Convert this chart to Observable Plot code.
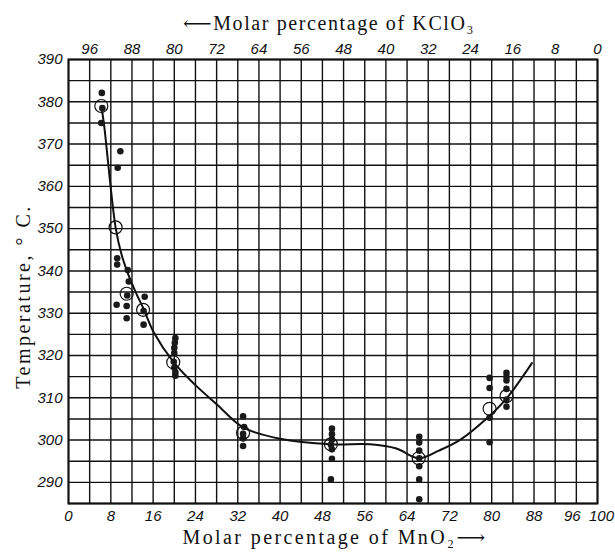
<!DOCTYPE html>
<html>
<head>
<meta charset="utf-8">
<script src="https://cdn.jsdelivr.net/npm/d3@7"></script>
<script src="https://cdn.jsdelivr.net/npm/@observablehq/plot@0.6"></script>
<style>
  html, body { margin: 0; padding: 0; background: #fff; }
</style>
</head>
<body>
<div id="chart"></div>
<script>
// ---- Data ----
const titleTop = "⟵Molar percentage of KClO₃";
const titleBottom = "Molar percentage of MnO₂⟶";
const titleY = "Temperature, ° C.";

// bottom axis: MnO2 %, top axis: KClO3 % (= 100 - MnO2)
const bottomTicks = [0, 8, 16, 24, 32, 40, 48, 56, 64, 72, 80, 88, 96, 100];
const topTicksKClO3 = [96, 88, 80, 72, 64, 56, 48, 40, 32, 24, 16, 8, 0];
const yTicks = [290, 300, 310, 320, 330, 340, 350, 360, 370, 380, 390];

// individual determinations (filled dots)
const filledX = [6.3, 6.4, 6.2,
  9.8, 9.3,
  9.2, 9.2, 11.2, 11.4, 11.1, 9.1, 11.0, 11.0, 14.4, 14.2, 14.2,
  20.2, 20.1, 20.0, 20.0, 19.9, 20.0, 20.2, 20.2,
  33.0, 33.2, 33.0, 33.0, 33.0,
  49.8, 49.8, 49.8, 49.6, 49.8, 49.8, 49.6,
  66.3, 66.3, 66.3, 66.3, 66.3, 66.3, 66.3,
  79.6, 79.6, 79.6, 79.6,
  82.8, 82.8, 82.8, 82.8, 82.8, 82.8];
const filledT = [382.1, 378.5, 375.0,
  368.3, 364.4,
  343.0, 341.5, 340.2, 337.5, 334.2, 332.0, 331.7, 328.8, 333.9, 330.5, 327.3,
  324.1, 323.0, 321.8, 320.6, 318.5, 317.1, 316.0, 315.2,
  305.6, 303.1, 301.5, 300.4, 298.6,
  302.7, 301.4, 300.1, 298.9, 297.8, 295.6, 290.7,
  300.8, 299.4, 297.5, 295.7, 293.8, 290.7, 286.0,
  314.7, 312.3, 305.3, 299.5,
  315.9, 315.0, 314.1, 312.1, 309.6, 307.9];

// mean values (open circles)
const meanX = [6.2, 8.9, 11.0, 14.1, 19.8, 33.0, 49.6, 66.2, 79.6, 82.8];
const meanT = [379.0, 350.3, 334.6, 330.8, 318.4, 301.7, 299.0, 295.7, 307.4, 310.4];

// smooth curve drawn through the means
const curveX = [6.2, 6.7, 8.9, 10.0, 11.2, 12.8, 14.2, 16.1, 19.9, 24, 28, 33, 40, 49.6, 57, 62, 66.2, 70, 74.1, 79.4, 82.9, 87.6];
const curveT = [379, 374.8, 350.3, 344, 339.5, 334.7, 331, 325.5, 318.4, 313, 308.5, 303, 300.3, 299, 299, 298, 295.7, 297.5, 300.1, 305.5, 310, 318.2];

// ---- Chart ----
const xGrid = d3.range(0, 101, 4);
const yGrid = d3.range(285, 391, 5);
const ink = "#111";
const serif = "'Liberation Serif', 'DejaVu Serif', serif";

const chart = Plot.plot({
  width: 615,
  height: 555,
  marginLeft: 68,
  marginRight: 18,
  marginTop: 59,
  marginBottom: 52,
  style: { background: "#fff", fontFamily: "'Liberation Sans', sans-serif", fontStyle: "italic", fontSize: "15px", color: ink },
  x: { domain: [0, 100] },
  y: { domain: [285, 390] },
  marks: [
    Plot.ruleX(xGrid, { stroke: ink, strokeWidth: 1.4 }),
    Plot.ruleY(yGrid, { stroke: ink, strokeWidth: 1.4 }),
    Plot.frame({ stroke: ink, strokeWidth: 2 }),
    Plot.axisX(bottomTicks.filter(d => d < 96), { anchor: "bottom", tickSize: 0, tickPadding: 7, label: null, fontSize: 15 }),
    Plot.axisX(bottomTicks.filter(d => d === 96), { anchor: "bottom", tickSize: 0, tickPadding: 7, label: null, fontSize: 15, dx: -4 }),
    Plot.axisX(bottomTicks.filter(d => d === 100), { anchor: "bottom", tickSize: 0, tickPadding: 7, label: null, fontSize: 15, dx: 4 }),
    Plot.axisX(topTicksKClO3.map(d => 100 - d), { anchor: "top", tickSize: 0, tickPadding: 6, tickFormat: d => String(100 - d), label: null, fontSize: 15 }),
    Plot.axisY(yTicks, { anchor: "left", tickSize: 0, tickPadding: 6, label: null, fontSize: 15 }),
    Plot.line(curveX, { x: curveX, y: curveT, curve: "catmull-rom", stroke: ink, strokeWidth: 2 }),
    Plot.dot(filledX, { x: filledX, y: filledT, r: 3.3, fill: "#1a1a1a", stroke: "none" }),
    Plot.dot(meanX, { x: meanX, y: meanT, r: 6.5, fill: "none", stroke: ink, strokeWidth: 1.2 }),
    Plot.text([titleTop], { frameAnchor: "top", textAnchor: "middle", dy: -44, dx: -4, fontFamily: serif, fontStyle: "normal", fontSize: 20, fill: ink }),
    Plot.text([titleBottom], { frameAnchor: "bottom", textAnchor: "middle", dy: 40, dx: 2, fontFamily: serif, fontStyle: "normal", fontSize: 20, fill: ink }),
    Plot.text([titleY], { frameAnchor: "left", textAnchor: "middle", rotate: -90, dx: -45, dy: 15, fontFamily: serif, fontStyle: "normal", fontSize: 20, fill: ink })
  ]
});
const spaced = { [titleTop]: "1.6px", [titleBottom]: "2.4px", [titleY]: "2.5px" };
chart.querySelectorAll("text").forEach(t => {
  const s = spaced[t.textContent];
  if (s) { t.style.letterSpacing = s; t.setAttribute("letter-spacing", s); }
});
document.getElementById("chart").appendChild(chart);
</script>
</body>
</html>
